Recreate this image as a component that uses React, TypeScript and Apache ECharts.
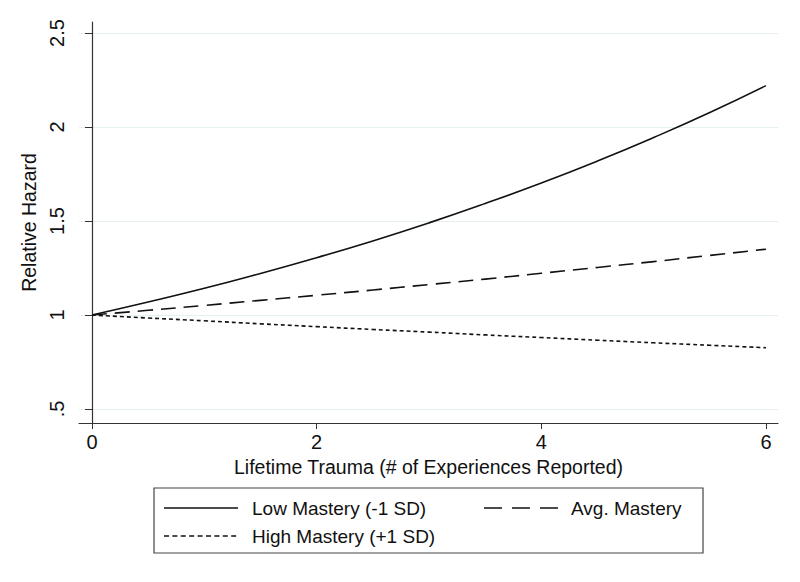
import React, { useEffect, useRef } from "react";
import * as echarts from "echarts";

const trauma = [0, 0.5, 1, 1.5, 2, 2.5, 3, 3.5, 4, 4.5, 5, 5.5, 6];
const lowMastery = [1, 1.069, 1.142, 1.221, 1.305, 1.394, 1.49, 1.593, 1.702, 1.819, 1.944, 2.077, 2.22];
const avgMastery = [1, 1.025, 1.051, 1.078, 1.105, 1.133, 1.162, 1.191, 1.222, 1.253, 1.284, 1.317, 1.35];
const highMastery = [1, 0.984, 0.969, 0.953, 0.938, 0.923, 0.909, 0.894, 0.88, 0.866, 0.852, 0.839, 0.826];
const xTicks = [0, 2, 4, 6];
const yTicks = [0.5, 1, 1.5, 2, 2.5];
const seriesNames = ["Low Mastery (-1 SD)", "Avg. Mastery", "High Mastery (+1 SD)"];

const FONT = "'Liberation Sans', Arial, Helvetica, sans-serif";

export default function App() {
  const ref = useRef<HTMLDivElement>(null);
  useEffect(() => {
    if (!ref.current) return;
    const chart = echarts.init(ref.current, undefined, { renderer: "svg" });
    const pair = (ys: number[]) => trauma.map((x, i) => [x, ys[i]]);
    const lineStyleBase = { color: "#111", width: 1.6 };
    chart.setOption({
      animation: false,
      backgroundColor: "#fff",
      grid: { left: 79, top: 22, right: 22, bottom: 159, containLabel: false },
      xAxis: {
        type: "value",
        min: -0.1157,
        max: 6.107,
        name: "Lifetime Trauma (# of Experiences Reported)",
        nameLocation: "middle",
        nameGap: 34,
        nameTextStyle: { fontFamily: FONT, fontSize: 19.5, color: "#111" },
        axisLine: { show: true, lineStyle: { color: "#333", width: 1.2 } },
        axisTick: { show: true, length: 6, customValues: xTicks, lineStyle: { color: "#333" } },
        axisLabel: {
          customValues: xTicks,
          fontFamily: FONT,
          fontSize: 20,
          color: "#111",
          margin: 9,
          formatter: (v: number) => String(v),
        },
        splitLine: { show: false },
      },
      yAxis: {
        type: "value",
        min: 0.4255,
        max: 2.5585,
        name: "Relative Hazard",
        nameLocation: "middle",
        nameGap: 36,
        nameRotate: 90,
        nameTextStyle: { fontFamily: FONT, fontSize: 19.5, color: "#111" },
        axisLine: { show: true, lineStyle: { color: "#333", width: 1.2 } },
        axisTick: { show: true, length: 7, customValues: yTicks, lineStyle: { color: "#333" } },
        axisLabel: {
          customValues: yTicks,
          rotate: 90,
          fontFamily: FONT,
          fontSize: 20,
          color: "#111",
          margin: 12,
          formatter: (v: number) => (v === 0.5 ? ".5" : String(v)),
        },
        splitLine: { show: true, lineStyle: { color: "#e6f0f0", width: 1.2 } },
      },
      series: [
        {
          name: seriesNames[0],
          type: "line",
          data: pair(lowMastery),
          smooth: true,
          symbol: "none",
          lineStyle: { ...lineStyleBase, type: "solid" },
          z: 5,
        },
        {
          name: seriesNames[1],
          type: "line",
          data: pair(avgMastery),
          smooth: true,
          symbol: "none",
          lineStyle: { ...lineStyleBase, type: [15, 8] },
          z: 5,
        },
        {
          name: seriesNames[2],
          type: "line",
          data: pair(highMastery),
          smooth: true,
          symbol: "none",
          lineStyle: { ...lineStyleBase, type: [4, 3] },
          z: 5,
        },
      ],
      graphic: [
        {
          type: "rect",
          shape: { x: 154, y: 488, width: 549, height: 65 },
          style: { fill: "#fff", stroke: "#444", lineWidth: 1.2 },
        },
        {
          type: "line",
          shape: { x1: 164, y1: 508, x2: 238, y2: 508 },
          style: { stroke: "#111", lineWidth: 1.6 },
        },
        {
          type: "text",
          x: 252,
          y: 508,
          style: { text: seriesNames[0], fontFamily: FONT, fontSize: 19, fill: "#111", verticalAlign: "middle" },
        },
        {
          type: "line",
          shape: { x1: 484, y1: 508, x2: 558, y2: 508 },
          style: { stroke: "#111", lineWidth: 1.6, lineDash: [18, 10] },
        },
        {
          type: "text",
          x: 571,
          y: 508,
          style: { text: seriesNames[1], fontFamily: FONT, fontSize: 19, fill: "#111", verticalAlign: "middle" },
        },
        {
          type: "line",
          shape: { x1: 164, y1: 536, x2: 238, y2: 536 },
          style: { stroke: "#111", lineWidth: 1.6, lineDash: [5, 3.4] },
        },
        {
          type: "text",
          x: 252,
          y: 536,
          style: { text: seriesNames[2], fontFamily: FONT, fontSize: 19, fill: "#111", verticalAlign: "middle" },
        },
      ],
    });
    return () => chart.dispose();
  }, []);
  return (
    <div
      ref={ref}
      style={{ position: "fixed", left: 0, top: 0, width: 800, height: 582, background: "#fff" }}
    />
  );
}
